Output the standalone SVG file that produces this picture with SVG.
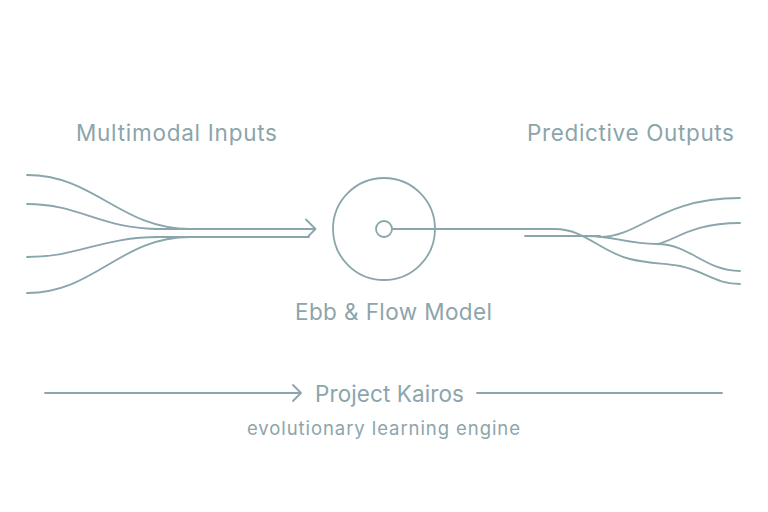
<svg xmlns="http://www.w3.org/2000/svg" width="768" height="512" viewBox="0 0 768 512">
  <style>
    .ln { fill: none; stroke: #8aa5ab; stroke-width: 1.8; stroke-linecap: round; stroke-linejoin: round; }
    .lbl { font-family: Inter, "Noto Sans", "Liberation Sans", sans-serif; fill: #8ca5ab; }
    .big { font-size: 22.5px; }
    .small { font-size: 18.5px; }
  </style>
  <rect width="768" height="512" fill="#ffffff"/>
  <g id="inputs">
    <text class="lbl big" x="76" y="141" textLength="201" lengthAdjust="spacing">Multimodal Inputs</text>
  </g>
  <g id="outputs">
    <text class="lbl big" x="527" y="141" textLength="207" lengthAdjust="spacing">Predictive Outputs</text>
  </g>
  <g id="model">
    <circle class="ln" cx="384" cy="229" r="51"/>
    <circle class="ln" cx="384" cy="229" r="8"/>
    <text class="lbl big" x="295" y="320" textLength="197" lengthAdjust="spacing">Ebb &amp; Flow Model</text>
  </g>
  <g id="project">
    <text class="lbl big" x="315" y="402" textLength="149" lengthAdjust="spacing">Project Kairos</text>
    <text class="lbl small" x="247" y="435" textLength="273" lengthAdjust="spacing">evolutionary learning engine</text>
  </g>
  <g id="connectors">
    <path class="ln" d="M27,175 C95,175 120,229 190,229"/>
    <path class="ln" d="M27,204 C80,204 100,229 160,229"/>
    <path class="ln" d="M27,257 C80,257 100,237 160,237"/>
    <path class="ln" d="M27,293 C95,293 120,237 190,237"/>
    <path class="ln" d="M155,229 H315"/>
    <path class="ln" d="M155,237 H309"/>
    <path class="ln" d="M306,219.5 L315.5,229 L308,236.5"/>
    <path class="ln" d="M392,229 H555 C585,229 600,252 630,259 C650,264 665,263 680,266 C705,271 715,284 740,284"/>
    <path class="ln" d="M525,236 H600"/>
    <path class="ln" d="M588,236 C612,236 628,244 657,244"/>
    <path class="ln" d="M657,244 C675,241 690,223 740,223"/>
    <path class="ln" d="M657,244 C690,244 705,271 740,271"/>
    <path class="ln" d="M600,237 C640,237 660,198 740,198"/>
    <path class="ln" d="M45,393 H300"/>
    <path class="ln" d="M293,385 L301,393 L293,401"/>
    <path class="ln" d="M477,393 H722"/>
  </g>
</svg>
